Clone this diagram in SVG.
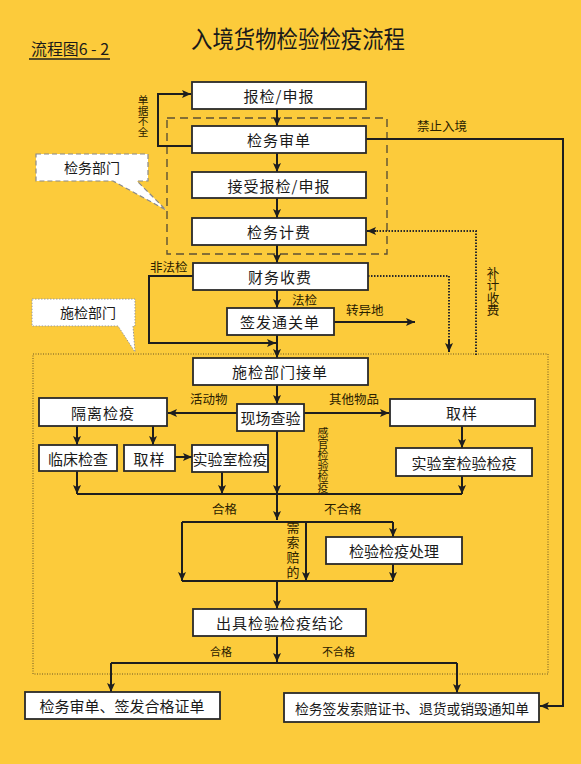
<svg xmlns="http://www.w3.org/2000/svg" width="581" height="764" viewBox="0 0 581 764">
<defs>
<marker id="ah" markerUnits="userSpaceOnUse" markerWidth="9" markerHeight="8" refX="9" refY="4" orient="auto">
<path d="M0,0 L9,4 L0,8 L2,4 z" fill="#1e1e1e"/>
</marker>
<style>
text{font-family:"Noto Sans CJK SC","Liberation Sans",sans-serif;fill:#1a1a1a;}
.box{fill:#ffffff;stroke:#2a2a2a;stroke-width:1.8;}
.bt{font-size:15px;text-anchor:middle;dominant-baseline:central;letter-spacing:1px;}
.lb{font-size:12.5px;dominant-baseline:central;fill:#2a2000;}
.vt{font-size:11px;writing-mode:vertical-rl;text-anchor:start;fill:#2a2000;}
.ln{fill:none;stroke:#1e1e1e;stroke-width:2;}
.ar{marker-end:url(#ah);}
.dt{fill:none;stroke:#2a2a2a;stroke-width:2;stroke-dasharray:1.5,1.5;}
</style>
</defs>
<rect x="0" y="0" width="581" height="764" fill="#fccb3b"/>

<text x="298" y="37" font-size="24" text-anchor="middle" dominant-baseline="central" textLength="214" lengthAdjust="spacingAndGlyphs">入境货物检验检疫流程</text>
<g id="label-fig">
<text x="31" y="48" font-size="15.5" dominant-baseline="central" textLength="78" lengthAdjust="spacingAndGlyphs">流程图6 - 2</text>
<line x1="29" y1="59" x2="110" y2="59" stroke="#1e1e1e" stroke-width="1.5"/>
</g>

<rect x="167" y="118" width="220" height="136" fill="none" stroke="#5e5234" stroke-width="1.4" stroke-dasharray="8,5"/>
<rect x="33" y="354" width="515" height="320" fill="none" stroke="#6b5624" stroke-width="1" stroke-dasharray="1,1.5"/>

<g id="callout-jianwu">
<path d="M36,154 H148 V181 H137 L166,210 L113,181 H36 Z" fill="#ffffff" stroke="#8a8a8a" stroke-width="1.2" stroke-dasharray="5,3"/>
<text x="92" y="167" font-size="14" text-anchor="middle" dominant-baseline="central">检务部门</text>
</g>
<g id="callout-shijian">
<path d="M32,299 H135 V326 H133 L135,352 L118,326 H32 Z" fill="#ffffff" stroke="#9a9a9a" stroke-width="1" stroke-dasharray="1.5,1.5"/>
<text x="88" y="312" font-size="14" text-anchor="middle" dominant-baseline="central">施检部门</text>
</g>

<g id="connectors">
<path class="ln ar" d="M277,109 V126"/>
<path class="ln ar" d="M192,146 H158 V94 H191"/>
<path class="ln ar" d="M277,153 V172"/>
<path class="ln ar" d="M277,198 V218"/>
<path class="ln ar" d="M277,245 V263"/>
<path class="ln ar" d="M366,139 H563 V706 H540"/>
<path class="dt" d="M476,355 V231 H372"/>
<path class="ln ar" d="M376,231 H367"/>
<path class="dt" d="M368,276 H449 V345"/>
<path class="ln ar" d="M449,340 V352"/>
<path class="ln ar" d="M277,290 V308"/>
<path class="ln ar" d="M334,322 H415"/>
<path class="ln ar" d="M193,276 H149 V343 H276"/>
<path class="ln ar" d="M277,335 V358"/>
<path class="ln ar" d="M277,385 V404"/>
<path class="ln ar" d="M237,413 H168"/>
<path class="ln ar" d="M304,413 H389"/>
<path class="ln ar" d="M77,426 V445"/>
<path class="ln ar" d="M153,426 V445"/>
<path class="ln ar" d="M175,457 H192"/>
<path class="ln ar" d="M462,426 V448"/>
<path class="ln ar" d="M77,471 V494"/>
<path class="ln ar" d="M222,472 V494"/>
<path class="ln ar" d="M277,431 V494"/>
<path class="ln ar" d="M462,476 V494"/>
<path class="ln" d="M77,494 H462"/>
<path class="ln ar" d="M277,494 V520"/>
<path class="ln" d="M182,522 H393"/>
<path class="ln ar" d="M182,522 V581"/>
<path class="ln ar" d="M306,522 V581"/>
<path class="ln ar" d="M393,522 V537"/>
<path class="ln ar" d="M393,564 V581"/>
<path class="ln" d="M182,581 H393"/>
<path class="ln ar" d="M277,581 V609"/>
<path class="ln ar" d="M277,636 V662"/>
<path class="ln" d="M111,663 H457"/>
<path class="ln ar" d="M111,663 V692"/>
<path class="ln ar" d="M457,663 V693"/>
</g>

<g id="n-baojian"><rect class="box" x="192" y="82" width="174" height="27"/><text class="bt" x="279" y="95.5">报检/申报</text></g>
<g id="n-shendan"><rect class="box" x="192" y="126" width="174" height="27"/><text class="bt" x="279" y="139.5">检务审单</text></g>
<g id="n-jieshou"><rect class="box" x="192" y="172" width="174" height="26"/><text class="bt" x="279" y="185">接受报检/申报</text></g>
<g id="n-jifei"><rect class="box" x="192" y="218" width="174" height="27"/><text class="bt" x="279" y="231.5">检务计费</text></g>
<g id="n-caiwu"><rect class="box" x="193" y="263" width="175" height="27"/><text class="bt" x="280" y="276.5">财务收费</text></g>
<g id="n-tongguan"><rect class="box" x="227" y="308" width="107" height="27"/><text class="bt" x="280" y="321.5">签发通关单</text></g>
<g id="n-jiedan"><rect class="box" x="193" y="358" width="175" height="27"/><text class="bt" x="280" y="371.5">施检部门接单</text></g>
<g id="n-xianchang"><rect class="box" x="237" y="404" width="67" height="27"/><text class="bt" x="270.5" y="417.5" style="letter-spacing:0">现场查验</text></g>
<g id="n-geli"><rect class="box" x="39" y="398" width="128" height="28"/><text class="bt" x="103" y="412">隔离检疫</text></g>
<g id="n-linchuang"><rect class="box" x="39" y="445" width="78" height="26"/><text class="bt" x="78" y="458" style="letter-spacing:0">临床检查</text></g>
<g id="n-quyang1"><rect class="box" x="124" y="445" width="51" height="26"/><text class="bt" x="149.5" y="458">取样</text></g>
<g id="n-shiyan1"><rect class="box" x="192" y="445" width="76" height="27"/><text class="bt" x="230" y="458.5" style="letter-spacing:0">实验室检疫</text></g>
<g id="n-quyang2"><rect class="box" x="390" y="399" width="145" height="27"/><text class="bt" x="462" y="412.5">取样</text></g>
<g id="n-shiyan2"><rect class="box" x="396" y="448" width="136" height="28"/><text class="bt" x="464" y="462" style="letter-spacing:0">实验室检验检疫</text></g>
<g id="n-chuli"><rect class="box" x="326" y="537" width="136" height="27"/><text class="bt" x="394" y="550.5" style="letter-spacing:0">检验检疫处理</text></g>
<g id="n-jielun"><rect class="box" x="193" y="609" width="173" height="27"/><text class="bt" x="280" y="622.5">出具检验检疫结论</text></g>
<g id="n-hege"><rect class="box" x="25" y="692" width="195" height="27"/><text class="bt" x="122" y="705.5" style="letter-spacing:0">检务审单、签发合格证单</text></g>
<g id="n-suopei"><rect class="box" x="284" y="693" width="255" height="29"/><text class="bt" x="412" y="707.5" style="letter-spacing:0;font-size:14px" textLength="234" lengthAdjust="spacingAndGlyphs">检务签发索赔证书、退货或销毁通知单</text></g>

<g id="labels">
<text class="vt" x="143" y="94.5" style="font-size:10.7px">单据不全</text>
<text class="lb" x="417" y="125">禁止入境</text>
<text class="vt" x="493" y="266.5" style="font-size:12.5px">补计收费</text>
<text class="lb" x="150" y="266">非法检</text>
<text class="lb" x="292" y="299">法检</text>
<text class="lb" x="346" y="309">转异地</text>
<text class="lb" x="190" y="398">活动物</text>
<text class="lb" x="329" y="398">其他物品</text>
<text class="vt" x="323" y="427.5">感官检验检疫</text>
<text class="lb" x="212" y="508">合格</text>
<text class="lb" x="324" y="508">不合格</text>
<text class="vt" x="293" y="520.5" style="font-size:13px;letter-spacing:2px">需索赔的</text>
<text class="lb" x="210" y="651" style="font-size:11px">合格</text>
<text class="lb" x="322" y="651" style="font-size:11px">不合格</text>
</g>
</svg>
